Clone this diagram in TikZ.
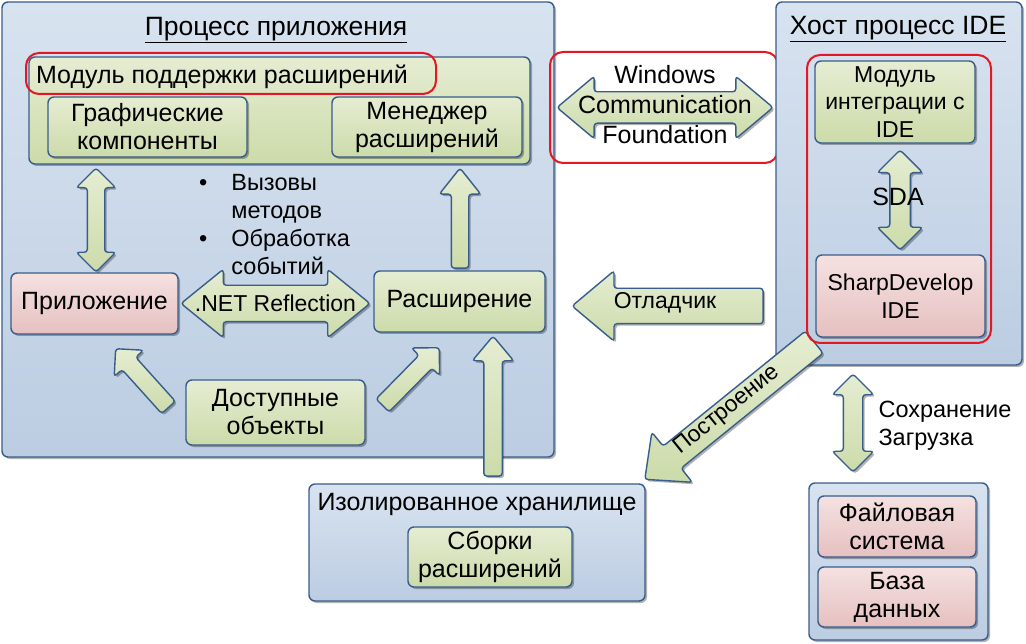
\documentclass[tikz,border=0pt]{standalone}
\usepackage{fontspec}
\setmainfont{Liberation Sans}
\usetikzlibrary{shapes.arrows, shadows, calc}

\definecolor{edgeblue}{RGB}{56, 93, 138}
\definecolor{framered}{RGB}{228, 24, 34}
\definecolor{bluetop}{RGB}{216, 227, 240}
\definecolor{bluebot}{RGB}{188, 205, 226}
\definecolor{greentop}{RGB}{229, 237, 210}
\definecolor{greenbot}{RGB}{204, 219, 170}
\definecolor{pinktop}{RGB}{245, 225, 225}
\definecolor{pinkbot}{RGB}{230, 192, 192}

\newcommand{\titlefont}{\fontsize{26.5}{30}\selectfont}
\newcommand{\boxfont}{\fontsize{25}{28}\selectfont}
\newcommand{\smallboxfont}{\fontsize{23}{27.5}\selectfont}
\newcommand{\listfont}{\fontsize{23.5}{28}\selectfont}

\tikzset{
  boxshadow/.style={drop shadow={shadow xshift=2pt, shadow yshift=-2pt, opacity=.3, fill=black}},
  container/.style={draw=edgeblue, line width=1.4pt, rounded corners=6pt, top color=bluetop, bottom color=bluebot, boxshadow},
  greenbox/.style={draw=edgeblue, line width=1.4pt, rounded corners=6pt, top color=greentop, bottom color=greenbot, boxshadow, align=center, font=\boxfont},
  pinkbox/.style={greenbox, top color=pinktop, bottom color=pinkbot},
  redframe/.style={draw=framered, line width=2pt, rounded corners=13pt},
  uparrow/.style={single arrow, draw=edgeblue, line width=1.4pt, rounded corners=3pt, top color=greentop, bottom color=greenbot, boxshadow, inner sep=0pt, minimum width=0pt, single arrow tip angle=80},
  twoarrow/.style={double arrow, draw=edgeblue, line width=1.4pt, rounded corners=3pt, top color=greentop, bottom color=greenbot, boxshadow, inner sep=0pt, minimum width=0pt, double arrow tip angle=90},
}

\begin{document}
\begin{tikzpicture}[x=1pt, y=-1pt]
    \path[use as bounding box, fill=white] (0,0) rectangle (1026,644);

    % Процесс приложения
    \node[container, minimum width=552, minimum height=455] (app) at (278,229.5) {};
    \node[font=\titlefont] (apptitle) at (276,30) {\underline{Процесс приложения}};

    % Модуль поддержки расширений
    \node[greenbox, minimum width=501, minimum height=107] (module) at (279.5,110.5) {};
    \node[font=\boxfont, anchor=west] (moduletext) at (32.5,77) {Модуль поддержки расширений};
    \node[greenbox, minimum width=199, minimum height=60] (gui) at (147.5,127) {Графические\\компоненты};
    \node[greenbox, minimum width=190, minimum height=60] (mgr) at (427,127) {Менеджер\\расширений};
    \node[redframe, minimum width=410, minimum height=41] (modframe) at (231,73.5) {};

    % Приложение и расширение
    \node[pinkbox, minimum width=167, minimum height=61] (prog) at (94.5,303.5) {Приложение};
    \node[greenbox, minimum width=171, minimum height=61] (ext) at (459.5,301.5) {Расширение};
    \node[greenbox, minimum width=179, minimum height=65] (objs) at (275.5,412.5) {Доступные\\объекты};

    \node[twoarrow, rotate=90, minimum height=104, inner ysep=8, double arrow head extend=11] (guiarrow) at (96,220) {};
    \node[uparrow, single arrow tip angle=77, anchor=tip, rotate=90, minimum height=100, inner ysep=8, single arrow head extend=12] (mgrarrow) at (460,167) {};
    \node[twoarrow, double arrow tip angle=78, minimum height=189, inner ysep=17.5, double arrow head extend=16] (reflarrow) at (275.5,303.5) {};
    \node[font=\smallboxfont] (refltext) at (reflarrow) {.NET Reflection};
    \node[uparrow, single arrow tip angle=90, anchor=tip, rotate=132, minimum height=79, inner ysep=8.5, single arrow head extend=10.5] (progarrow) at (115,348) {};
    \node[uparrow, single arrow tip angle=90, anchor=tip, rotate=45.5, minimum height=81, inner ysep=8.5, single arrow head extend=10.5] (extarrow) at (440,347) {};

    % вызовы
    \node[font=\listfont, anchor=west, inner sep=0pt] (calls) at (199,226.5) {%
      \begin{tabular}{@{}l@{\hspace{24pt}}l@{}}
        •&Вызовы\\ &методов\\ •&Обработка\\ &событий
      \end{tabular}};

    % Изолированное хранилище
    \node[container, minimum width=336, minimum height=117] (store) at (477,542.5) {};
    \node[font=\boxfont] (storetitle) at (477,504) {Изолированное хранилище};
    \node[greenbox, minimum width=164, minimum height=60] (asm) at (490,557) {Сборки\\расширений};
    \node[uparrow, anchor=tip, rotate=90, minimum height=140, inner ysep=8.5, single arrow head extend=11.5] (loadarrow) at (493,335) {};

    % Windows Communication Foundation
    \node[redframe, minimum width=228, minimum height=111] (wcfframe) at (664,107.5) {};
    \node[twoarrow, double arrow tip angle=80, minimum height=216, inner ysep=15, double arrow head extend=15.5] (wcfarrow) at (665,107.5) {};
    \node[font=\boxfont, align=center] (wcftext) at (665,105) {Windows\\[2pt]Communication\\[2pt]Foundation};

    % Хост процесс IDE
    \node[container, minimum width=246, minimum height=363] (host) at (899,183.5) {};
    \node[font=\titlefont] (hosttitle) at (898,29) {\underline{Хост процесс IDE}};
    \node[greenbox, font=\smallboxfont, minimum width=160, minimum height=82] (integ) at (895,102) {Модуль\\интеграции с\\IDE};
    \node[pinkbox, font=\smallboxfont, minimum width=169, minimum height=82] (sd) at (900.5,296) {SharpDevelop\\IDE};
    \node[twoarrow, rotate=90, minimum height=100, inner ysep=9.5, double arrow head extend=12.5] (sdaarrow) at (900,200) {};
    \node[font=\boxfont] (sdatext) at (898,197) {SDA};

    % Отладчик
    \node[uparrow, anchor=tip, rotate=180, minimum height=191, inner ysep=17, single arrow head extend=17.5] (dbgarrow) at (571,306) {};
    \node[font=\smallboxfont] (dbgtext) at (665,303) {Отладчик};

    % Построение
    \node[uparrow, single arrow tip angle=85, anchor=tip, rotate=219, minimum height=218, inner ysep=13.5, single arrow head extend=18] (buildarrow) at (644,480) {};
    \node[font=\smallboxfont, rotate=39] (buildtext) at (727,410) {Построение};
    \node[redframe, minimum width=184, minimum height=288] (hostframe) at (899,199) {};

    % Файловая система
    \node[twoarrow, rotate=90, minimum height=98, inner ysep=9, double arrow head extend=11] (savearrow) at (853,423) {};
    \node[font=\listfont, anchor=west, align=left] (savetext) at (875,426) {Сохранение\\Загрузка};
    \node[container, minimum width=179, minimum height=157] (disk) at (898.5,561.5) {};
    \node[pinkbox, minimum width=158, minimum height=61] (files) at (897,526.5) {Файловая\\система};
    \node[pinkbox, minimum width=158, minimum height=60] (db) at (897,597) {База\\данных};
\end{tikzpicture}
\end{document}
